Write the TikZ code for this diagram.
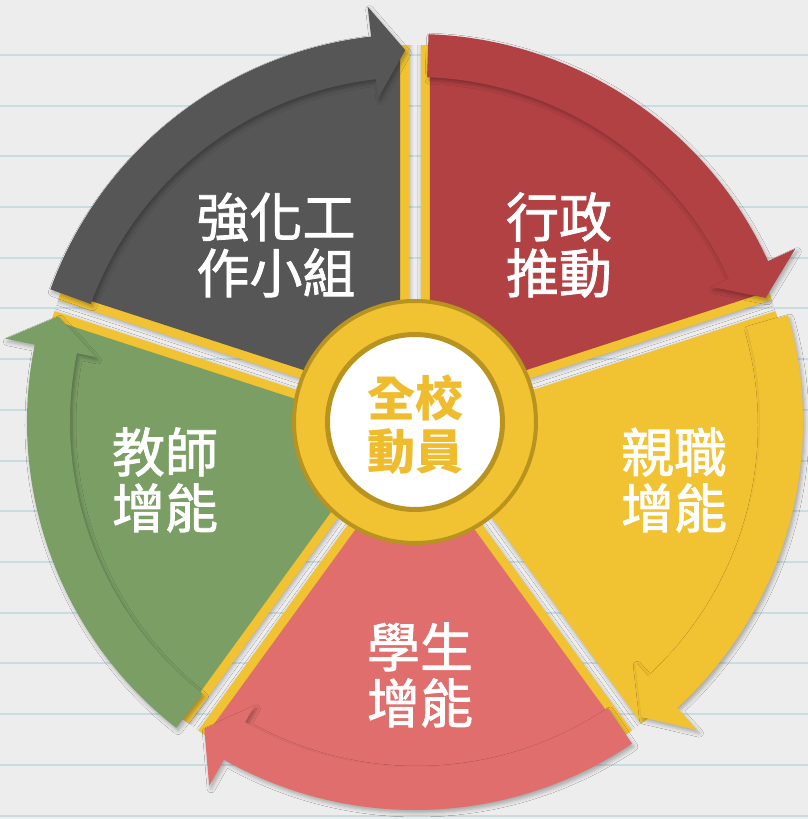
\documentclass[tikz,border=0pt]{standalone}
\usepackage{fontspec}
\newfontfamily\cjkw{Noto Sans CJK TC}[FakeBold=1.5]
\newfontfamily\cjkb{Noto Sans CJK TC}
\usetikzlibrary{shadows.blur}
\definecolor{bg}{RGB}{237,237,237}
\definecolor{ruleline}{RGB}{200,220,225}
\definecolor{cgray}{RGB}{86,86,86}
\definecolor{cred}{RGB}{178,65,67}
\definecolor{cyellow}{RGB}{241,194,50}
\definecolor{cpink}{RGB}{223,110,108}
\definecolor{cgreen}{RGB}{123,158,101}
\definecolor{cdark}{RGB}{184,147,31}
\definecolor{ctxt}{RGB}{238,188,45}
\newcommand\drawsector[2]{%
  \pgfmathsetmacro\secaone{#1+72}%
  \pgfmathsetmacro\secbis{#1+36}%
  \pgfmathsetmacro\sectail{#1+70}%
  \pgfmathsetmacro\secbase{#1+6.5}%
  \pgfmathsetmacro\sectip{#1+1.5}%
  \begin{scope}
    \clip (0,0) circle[radius=377];
    \fill[cyellow, wedgeshadow] (\secbis:10.2) -- +(#1:600) -- +(\secaone:600) -- cycle;
  \end{scope}
  \begin{scope}
    \clip (0,0) circle[radius=375];
    \fill[#2] (\secbis:25.5) -- +(#1:600) -- +(\secaone:600) -- cycle;
  \end{scope}
  \fill[#2, bandshadow] (\sectail:345) arc[start angle=\sectail, end angle=\secbase, radius=345]
    -- (\secbase:326) -- (\sectip:372) -- (\secbase:418) -- (\secbase:388)
    arc[start angle=\secbase, end angle=\sectail, radius=388] -- cycle;
}
\begin{document}
\begin{tikzpicture}[x=1pt,y=1pt,
  wedgeshadow/.style={blur shadow={shadow xshift=1pt, shadow yshift=-2pt, shadow blur radius=4pt, shadow opacity=30}},
  bandshadow/.style={blur shadow={shadow xshift=2pt, shadow yshift=-3pt, shadow blur radius=4pt, shadow opacity=30}},
  wtext/.style={font=\cjkw\fontsize{53}{56}\selectfont, text=white, align=center, inner sep=0pt},
  ctext/.style={font=\cjkb\bfseries\fontsize{48}{53}\selectfont, align=center, inner sep=0pt}]
\useasboundingbox (-415,-397) rectangle (393,422);
\fill[bg] (-415,-397) rectangle (393,422);
\foreach \k in {0,...,15} {
  \draw[ruleline, line width=2pt] (-415,{367-50.7*\k}) -- (393,{367-50.7*\k});
}
\drawsector{90}{cgray}
\drawsector{18}{cred}
\drawsector{-54}{cyellow}
\drawsector{-126}{cpink}
\drawsector{162}{cgreen}
% centre
\draw[fill=cyellow, draw=cdark, line width=4pt] (0,0) circle[radius=121];
\draw[fill=white, draw=cdark, line width=5pt] (0,0) circle[radius=87.5];
% texts
\node[wtext] (t1) at (-139,177) {強化工\\作小組};
\node[wtext] (t2) at (144,177) {行政\\推動};
\node[wtext] (t3) at (259,-58) {親職\\增能};
\node[wtext] (t4) at (5,-253) {學生\\增能};
\node[wtext] (t5) at (-250,-58) {教師\\增能};
\node[ctext, text=ctxt] (c) at (0,-3) {全校\\動員};
\end{tikzpicture}
\end{document}
